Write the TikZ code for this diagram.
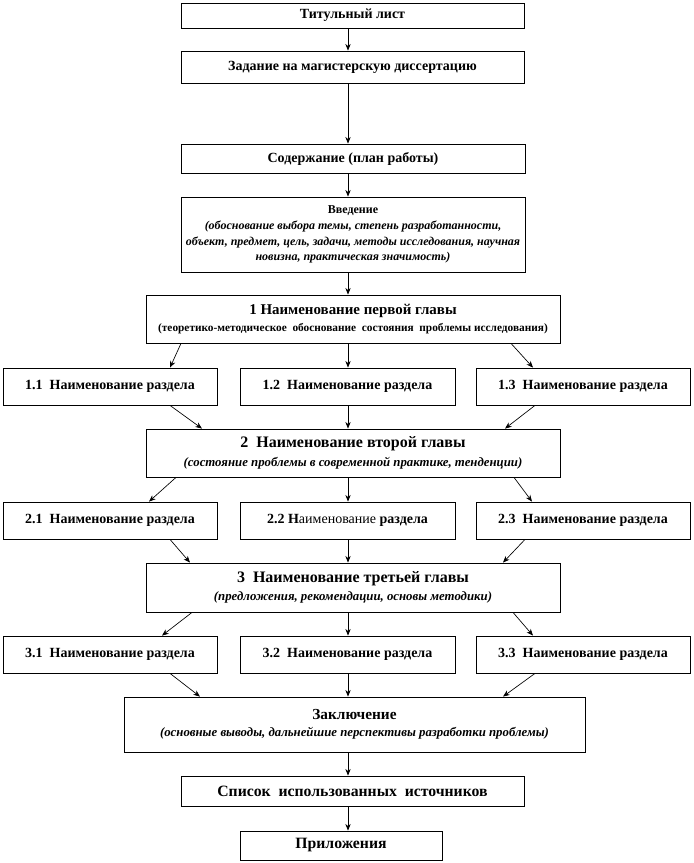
\documentclass[tikz,border=0pt]{standalone}
\usepackage{fontspec}
\setmainfont{Liberation Serif}
\usetikzlibrary{arrows.meta}
\newcommand{\subnote}{\bfseries\itshape\fontsize{9.6}{11}\selectfont}

\begin{document}
\begin{tikzpicture}[x=0.75pt,y=0.75pt,yscale=-1,xscale=1,
    box/.style={draw,line width=0.6pt,inner sep=0pt,align=center,font=\bfseries\fontsize{10.5}{12}\selectfont},
    chap/.style={box,minimum width=310.5pt,font=\bfseries\fontsize{12}{14}\selectfont},
    part/.style={box,minimum height=27.75pt},
    arr/.style={-{Stealth[length=5pt,width=4pt]},line width=0.5pt}]
        \useasboundingbox (0,0) rectangle (693,863);
        \coordinate (axis) at (348,0);

        \node[box,minimum width=257.25pt,minimum height=18.75pt] (tit) at (352.5,15.5) {Титульный лист};
        \node[box,minimum width=257.25pt,minimum height=24pt] (zad) at (352.5,67) {Задание на магистерскую диссертацию};
        \node[box,minimum width=258pt,minimum height=21.75pt] (sod) at (353,158.5) {Содержание (план работы)};
        \node[box,minimum width=258pt,minimum height=56.25pt,font=\bfseries\fontsize{9}{11.8}\selectfont] (vved) at (353,234.5) {Введение\\ \textit{(обоснование выбора темы, степень разработанности,}\\ \textit{объект, предмет, цель, задачи, методы исследования, научная}\\ \textit{новизна, практическая значимость)}};

        \node[chap,minimum height=36pt,font=\bfseries\fontsize{11.2}{13}\selectfont] (ch1) at (353,319) {1 Наименование первой главы\\[0pt] {\fontsize{8.5}{11}\selectfont (теоретико-методическое\ \ обоснование\ \ состояния\ \ проблемы исследования)}};
        \node[part,minimum width=160.5pt] (s11) at (110,386.5) {1.1\ \ Наименование раздела};
        \node[part,minimum width=161.25pt] (s12) at (347.5,386.5) {1.2\ \ Наименование раздела};
        \node[part,minimum width=160.5pt] (s13) at (583,386.5) {1.3\ \ Наименование раздела};

        \node[chap,minimum height=36pt] (ch2) at (353,453) {2\ \ Наименование второй главы\\[0pt] {\subnote (состояние проблемы в современной практике, тенденции)}};
        \node[part,minimum width=160.5pt] (s21) at (110,520.5) {2.1\ \ Наименование раздела};
        \node[part,minimum width=161.25pt] (s22) at (347.5,520.5) {2.2 Н\mdseries аименование \bfseries раздела};
        \node[part,minimum width=160.5pt] (s23) at (583,520.5) {2.3\ \ Наименование раздела};

        \node[chap,minimum height=36.75pt] (ch3) at (353,587.5) {3\ \ Наименование третьей главы\\[0pt] {\subnote (предложения, рекомендации, основы методики)}};
        \node[part,minimum width=160.5pt] (s31) at (110,654.5) {3.1\ \ Наименование раздела};
        \node[part,minimum width=161.25pt] (s32) at (347.5,654.5) {3.2\ \ Наименование раздела};
        \node[part,minimum width=160.5pt] (s33) at (583,654.5) {3.3\ \ Наименование раздела};

        \node[box,minimum width=345.75pt,minimum height=41.25pt,font=\bfseries\fontsize{11.5}{13}\selectfont] (zak) at (354.5,724.5) {Заключение\\[0pt] {\subnote (основные выводы, дальнейшие перспективы разработки проблемы)}};
        \node[box,minimum width=257.25pt,minimum height=22.5pt,font=\bfseries\fontsize{11.8}{13}\selectfont] (spis) at (352.5,791) {Список\ \ использованных\ \ источников};
        \node[box,minimum width=151.5pt,minimum height=21.75pt,font=\bfseries\fontsize{11.8}{13}\selectfont] (pril) at (341,845.5) {Приложения};

        \draw[arr] (tit.south -| axis) -- (zad.north -| axis);
        \draw[arr] (zad.south -| axis) -- (sod.north -| axis);
        \draw[arr] (sod.south -| axis) -- (vved.north -| axis);
        \draw[arr] (vved.south -| axis) -- (ch1.north -| axis);

        \draw[arr] ([xshift=-129pt]ch1.south) -- ([xshift=45pt]s11.north);
        \draw[arr] (ch1.south -| axis) -- (s12.north -| axis);
        \draw[arr] ([xshift=118.5pt]ch1.south) -- ([xshift=-37.5pt]s13.north);
        \draw[arr] ([xshift=45pt]s11.south) -- ([xshift=-113.25pt]ch2.north);
        \draw[arr] (s12.south -| axis) -- (ch2.north -| axis);
        \draw[arr] ([xshift=-36pt]s13.south) -- ([xshift=114pt]ch2.north);

        \draw[arr] ([xshift=-132.75pt]ch2.south) -- ([xshift=29.25pt]s21.north);
        \draw[arr] (ch2.south -| axis) -- (s22.north -| axis);
        \draw[arr] ([xshift=120.75pt]ch2.south) -- ([xshift=-38.25pt]s23.north);
        \draw[arr] ([xshift=45pt]s21.south) -- ([xshift=-122.25pt]ch3.north);
        \draw[arr] (s22.south -| axis) -- (ch3.north -| axis);
        \draw[arr] ([xshift=-43.5pt]s23.south) -- ([xshift=112.5pt]ch3.north);

        \draw[arr] ([xshift=-120.75pt]ch3.south) -- ([xshift=39pt]s31.north);
        \draw[arr] (ch3.south -| axis) -- (s32.north -| axis);
        \draw[arr] ([xshift=120pt]ch3.south) -- ([xshift=-37.5pt]s33.north);
        \draw[arr] ([xshift=45pt]s31.south) -- ([xshift=-115.9pt]zak.north);
        \draw[arr] (s32.south -| axis) -- (zak.north -| axis);
        \draw[arr] ([xshift=-36pt]s33.south) -- ([xshift=111.4pt]zak.north);

        \draw[arr] (zak.south -| axis) -- (spis.north -| axis);
        \draw[arr] (spis.south -| axis) -- (pril.north -| axis);
    \end{tikzpicture}
\end{document}
